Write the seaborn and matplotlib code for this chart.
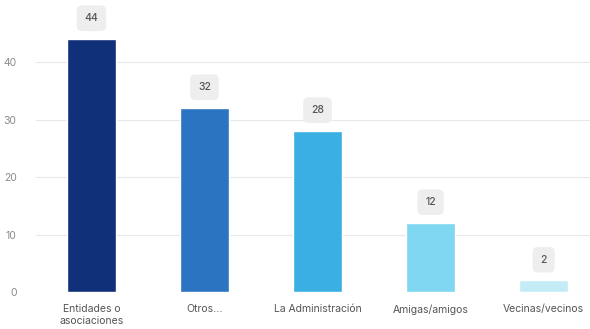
import matplotlib
matplotlib.use('Agg')
import matplotlib.pyplot as plt
import seaborn as sns
import pandas as pd

categories = ['Entidades o\nasociaciones', 'Otros...', 'La Administración', 'Amigas/amigos', 'Vecinas/vecinos']
values = [44, 32, 28, 12, 2]
colors = ['#11307a', '#2a74c2', '#3aafe3', '#7fd7f1', '#c4ecf7']

df = pd.DataFrame({'cat': categories, 'val': values})

sns.set_style('white')
plt.rcParams['font.family'] = ['Inter', 'DejaVu Sans']

fig = plt.figure(figsize=(5.9, 3.29), dpi=100)
ax = fig.add_axes([0.061, 0.1125, 0.939, 0.8875])

sns.barplot(data=df, x='cat', y='val', hue='cat', palette=colors, legend=False,
            width=0.43, ax=ax, saturation=1)

ax.set_xlim(-0.49, 4.41)
ax.set_ylim(0, 50.8)
ax.set_yticks([0, 10, 20, 30, 40])
ax.yaxis.grid(True, color='#e8e8e8', linewidth=0.8)
ax.set_axisbelow(True)
for s in ax.spines.values():
    s.set_visible(False)
ax.set_xlabel('')
ax.set_ylabel('')
ax.tick_params(axis='y', length=0, labelsize=7.5, labelcolor='#8a8a8a', pad=14)
ax.tick_params(axis='x', length=0, labelsize=7.5, labelcolor='#555555', pad=9)
for lbl in ax.get_xticklabels():
    lbl.set_multialignment('center')

for i, v in enumerate(values):
    ax.annotate(str(v), (i, v), xytext=(0, 15), textcoords='offset points',
                ha='center', va='center', fontsize=7.5, color='#555555', fontweight='medium',
                bbox=dict(boxstyle='round,pad=0.75,rounding_size=0.5', fc='#eeeeee', ec='none'))

fig.savefig('out.png', dpi=100)
